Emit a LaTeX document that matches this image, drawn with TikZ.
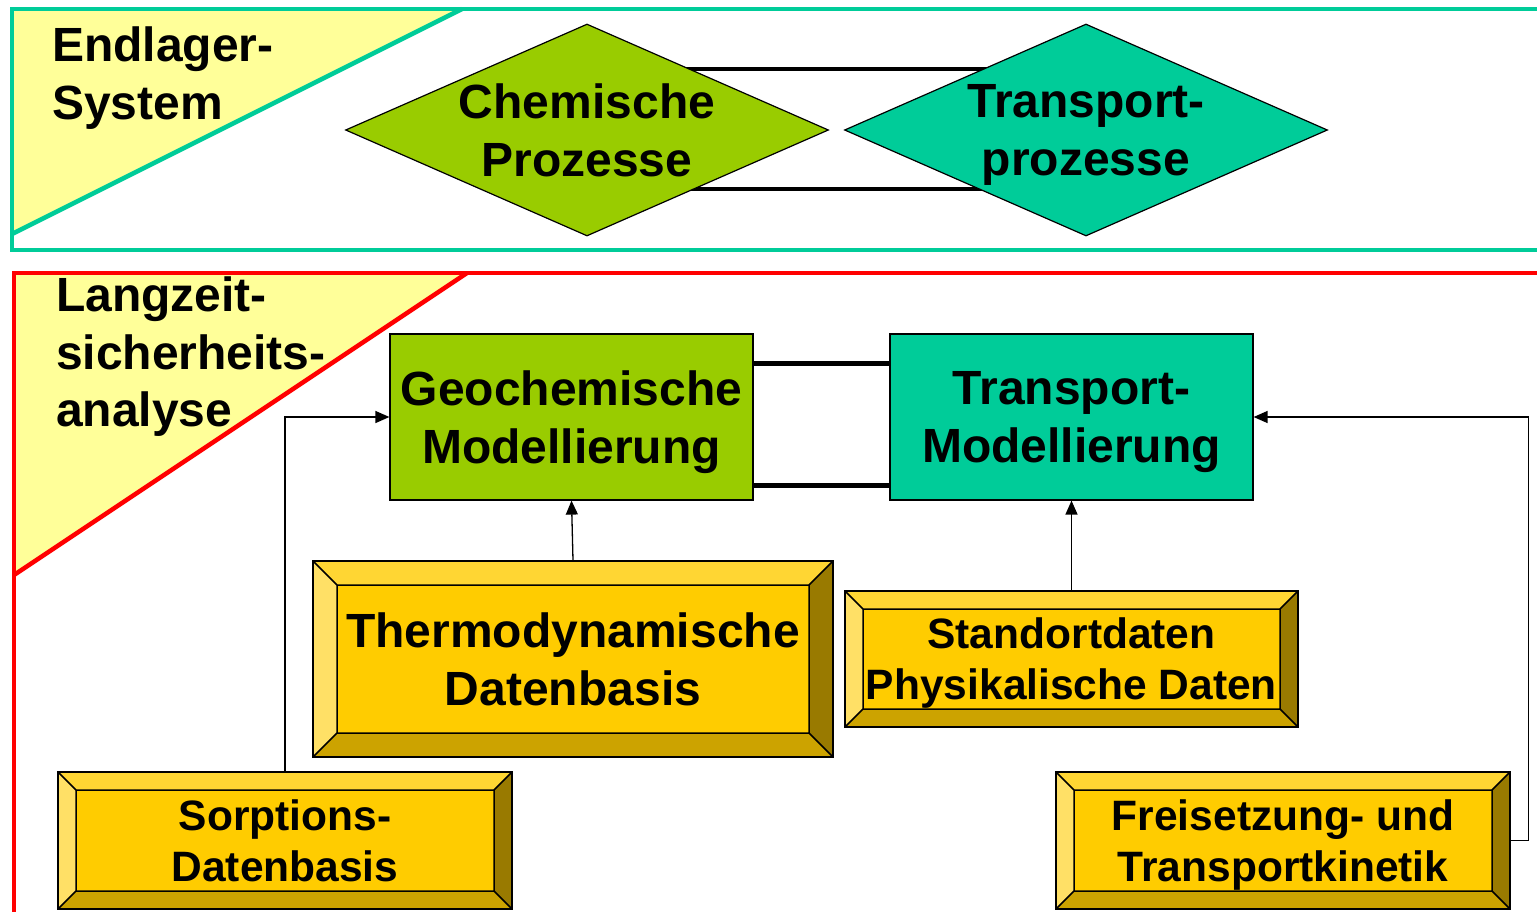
\documentclass[tikz,border=0pt]{standalone}
\usepackage{fontspec}
\setmainfont{Liberation Sans}
\usetikzlibrary{arrows.meta,positioning,calc,shapes.geometric}

\definecolor{framegreen}{HTML}{00CC99}
\definecolor{framered}{HTML}{FF0000}
\definecolor{paleyellow}{HTML}{FFFF99}
\definecolor{chemgreen}{HTML}{99CC00}
\definecolor{transteal}{HTML}{00CC99}
\definecolor{goldmid}{HTML}{FFCC00}
\definecolor{goldtop}{HTML}{FFD633}
\definecolor{goldleft}{HTML}{FFE066}
\definecolor{goldright}{HTML}{997A00}
\definecolor{goldbot}{HTML}{CCA300}

\pgfdeclarelayer{background}
\pgfsetlayers{background,main}

\newcommand{\bigtxt}{\fontsize{48}{57.5}\selectfont\bfseries}
\newcommand{\smalltxt}{\fontsize{42.5}{51}\selectfont\bfseries}

\begin{document}
\begin{tikzpicture}[x=1pt, y=-1pt, >={Triangle[length=14pt,width=12pt]},
    procdiamond/.style={diamond, aspect=2.28, draw=black, line width=1.2pt, inner sep=0pt,
        minimum width=483pt, minimum height=212pt, align=center, font=\bigtxt, text depth=0pt},
    modbox/.style={rectangle, draw=black, line width=1.2pt, inner sep=0pt,
        minimum width=363pt, minimum height=166pt, align=center, font=\bigtxt, text depth=0pt},
    bevel size/.store in=\bvsize, bevel size=18,
    databox/.style={rectangle, draw=black, line width=1.5pt, fill=goldmid, inner sep=0pt,
        align=center, font=\smalltxt, text depth=0pt,
        path picture={
            \coordinate (p1) at (path picture bounding box.north west);
            \coordinate (p2) at (path picture bounding box.north east);
            \coordinate (p3) at (path picture bounding box.south east);
            \coordinate (p4) at (path picture bounding box.south west);
            \coordinate (q1) at ($(p1)+(\bvsize,\bvsize)$);
            \coordinate (q2) at ($(p2)+(-\bvsize,\bvsize)$);
            \coordinate (q3) at ($(p3)+(-\bvsize,-\bvsize)$);
            \coordinate (q4) at ($(p4)+(\bvsize,-\bvsize)$);
            \fill[goldtop] (p1) -- (p2) -- (q2) -- (q1) -- cycle;
            \fill[goldright] (p2) -- (p3) -- (q3) -- (q2) -- cycle;
            \fill[goldbot] (p3) -- (p4) -- (q4) -- (q3) -- cycle;
            \fill[goldleft] (p4) -- (p1) -- (q1) -- (q4) -- cycle;
            \draw[line width=1.5pt] (q1) rectangle (q3)
                (p1) -- (q1) (p2) -- (q2) (p3) -- (q3) (p4) -- (q4);
        }},
    link/.style={line width=4.5pt},
    feed/.style={->, line width=1.3pt},
    framebar/.style={line width=4.5pt},
    cornerlabel/.style={anchor=north west, inner sep=0pt, align=left, font=\bigtxt},
]
    \useasboundingbox (0,0) rectangle (1537,911);

    % upper frame: Endlager-System
    \fill[paleyellow] (12,9) -- (462,9) -- (12,234) -- cycle;
    \draw[framebar, framegreen] (462,9) -- (12,234);
    \draw[framebar, framegreen] (12,9) rectangle (1580,250);
    \node[cornerlabel] (endlabel) at (52,27) {Endlager-\\System};

    % lower frame: Langzeitsicherheitsanalyse
    \fill[paleyellow] (14,273) -- (467,273) -- (14,575) -- cycle;
    \draw[framebar, framered] (467,273) -- (14,575);
    \draw[framebar, framered] (14,273) rectangle (1580,960);
    \node[cornerlabel] (lzlabel) at (56,277) {Langzeit-\\sicherheits-\\analyse};

    % processes
    \node[procdiamond, fill=chemgreen] (chem) at (587,130) {Chemische\\Prozesse};
    \node[procdiamond, fill=transteal] (tproc) at (1086,130) {Transport-\\prozesse};
    \begin{pgfonlayer}{background}
        \draw[link] ($(chem.center)+(0,-61)$) -- ($(tproc.center)+(0,-61)$);
        \draw[link] ($(chem.center)+(0,59)$) -- ($(tproc.center)+(0,59)$);
    \end{pgfonlayer}

    % modelling
    \node[modbox, fill=chemgreen] (geo) at (571.5,417) {Geochemische\\Modellierung};
    \node[modbox, fill=transteal] (tmod) at (1071.5,417) {Transport-\\Modellierung};
    \draw[link] ($(geo.north east)+(0,30)$) -- ($(tmod.north west)+(0,30)$);
    \draw[link] ($(geo.south east)+(0,-15)$) -- ($(tmod.south west)+(0,-15)$);

    % data bases
    \node[databox, bevel size=24, minimum width=520pt, minimum height=196pt, font=\bigtxt]
        (thermo) at (573,659) {Thermodynamische\\Datenbasis};
    \node[databox, minimum width=453pt, minimum height=136pt]
        (stand) at (1071.5,659) {Standortdaten\\Physikalische Daten};
    \node[databox, minimum width=454pt, minimum height=137pt]
        (sorp) at (285,840.5) {Sorptions-\\Datenbasis};
    \node[databox, minimum width=454pt, minimum height=137pt]
        (frei) at (1283,840.5) {Freisetzung- und\\Transportkinetik};

    % data flow
    \draw[feed] (thermo.north) -- (geo.south);
    \draw[feed] (stand.north) -- (tmod.south);
    \draw[feed] (sorp.north) |- (geo.west);
    \draw[feed] (frei.east) -- ++(18,0) |- (tmod.east);
\end{tikzpicture}
\end{document}
